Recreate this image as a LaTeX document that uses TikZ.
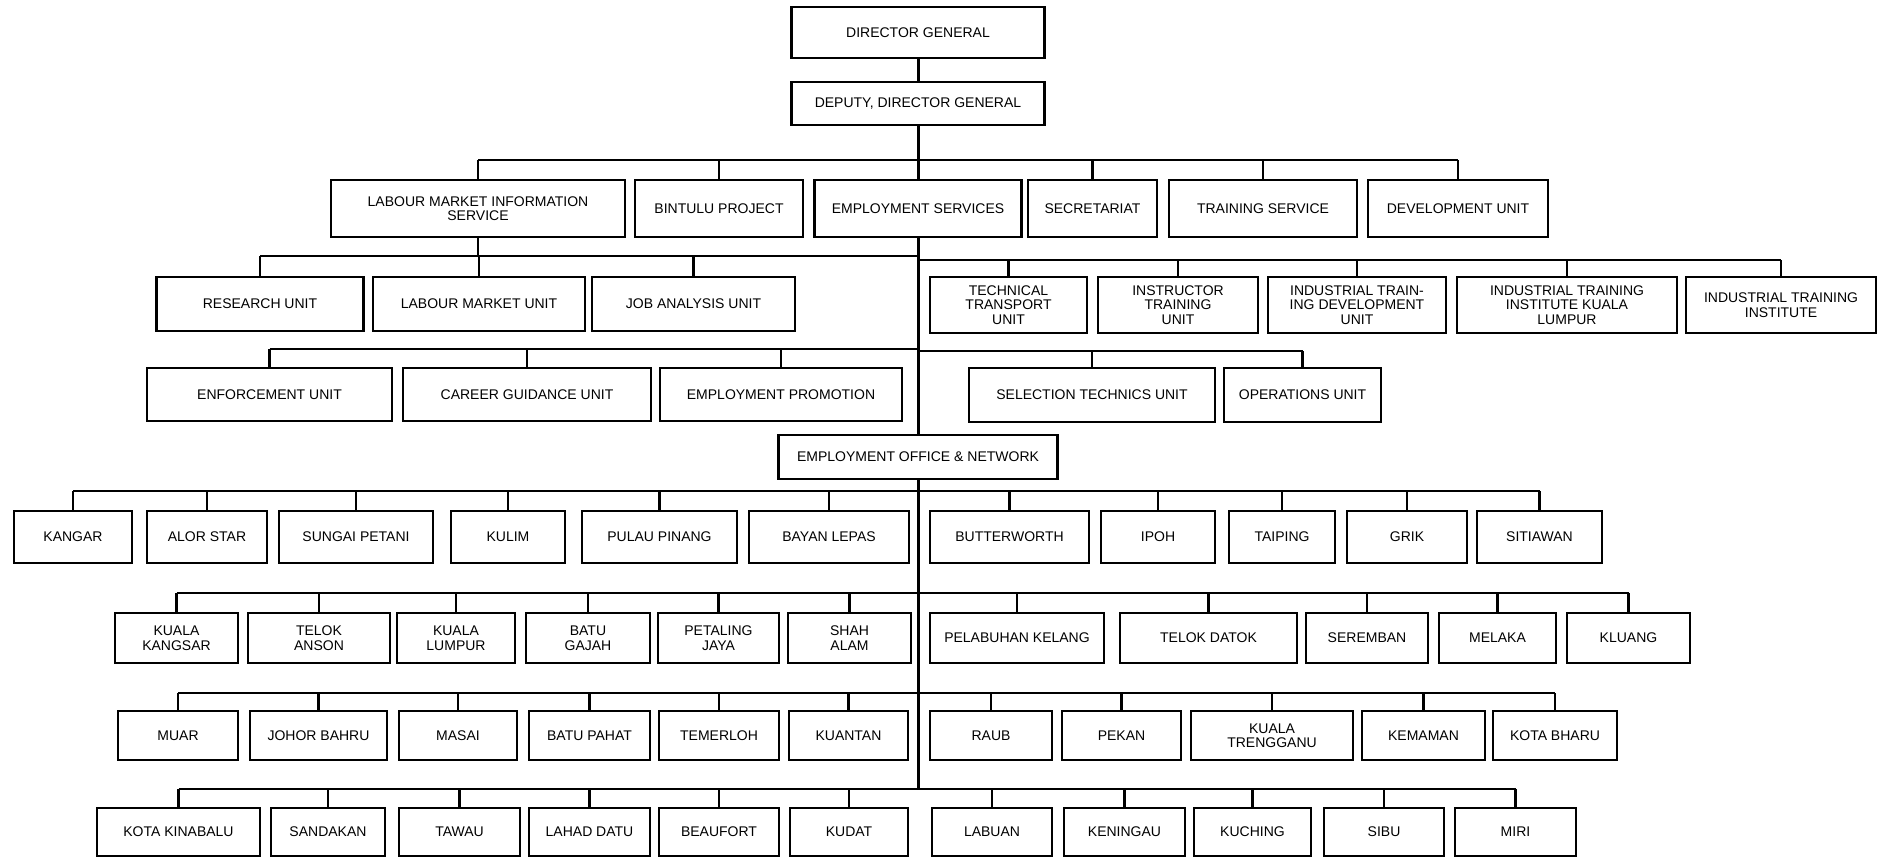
\documentclass[tikz,border=0pt]{standalone}
\usepackage{fontspec}
\setmainfont{Liberation Sans}
\begin{document}
\begin{tikzpicture}[x=1pt, y=-1pt,
  orgbox/.style={draw, line width=2.8pt, fill=white, align=center, inner sep=1pt,
    font=\fontsize{14}{14.5}\selectfont},
  link/.style={line width=2.2pt},
  trunk/.style={line width=3pt}]
\useasboundingbox (0,0) rectangle (1886,859);
% head
\node[orgbox, minimum width=253pt, minimum height=51pt] (dg) at (918,32.5) {DIRECTOR GENERAL};
\node[orgbox, minimum width=253pt, minimum height=43pt] (deputy) at (918,103.5) {DEPUTY, DIRECTOR GENERAL};
% services
\node[orgbox, minimum width=294pt, minimum height=57pt] (lmis) at (478,208.5) {LABOUR MARKET INFORMATION\\SERVICE};
\node[orgbox, minimum width=168pt, minimum height=57pt] (bintulu) at (719,208.5) {BINTULU PROJECT};
\node[orgbox, minimum width=207pt, minimum height=57pt] (es) at (918,208.5) {EMPLOYMENT SERVICES};
\node[orgbox, minimum width=129pt, minimum height=57pt] (secr) at (1092.5,208.5) {SECRETARIAT};
\node[orgbox, minimum width=188pt, minimum height=57pt] (trs) at (1263,208.5) {TRAINING SERVICE};
\node[orgbox, minimum width=180pt, minimum height=57pt] (dev) at (1458,208.5) {DEVELOPMENT UNIT};
% units
\node[orgbox, minimum width=207pt, minimum height=54pt] (research) at (260,304) {RESEARCH UNIT};
\node[orgbox, minimum width=212pt, minimum height=54pt] (lmu) at (479,304) {LABOUR MARKET UNIT};
\node[orgbox, minimum width=203pt, minimum height=54pt] (jau) at (693.5,304) {JOB ANALYSIS UNIT};
\node[orgbox, minimum width=157pt, minimum height=56pt] (ttu) at (1008.5,305) {TECHNICAL\\TRANSPORT\\UNIT};
\node[orgbox, minimum width=160pt, minimum height=56pt] (itu) at (1178,305) {INSTRUCTOR\\TRAINING\\UNIT};
\node[orgbox, minimum width=178pt, minimum height=56pt] (itdu) at (1357,305) {INDUSTRIAL TRAIN-\\ING DEVELOPMENT\\UNIT};
\node[orgbox, minimum width=220pt, minimum height=56pt] (itikl) at (1567,305) {INDUSTRIAL TRAINING\\INSTITUTE KUALA\\LUMPUR};
\node[orgbox, minimum width=190pt, minimum height=56pt] (iti) at (1781,305) {INDUSTRIAL TRAINING\\INSTITUTE};
\node[orgbox, minimum width=245pt, minimum height=53pt] (enf) at (269.5,394.5) {ENFORCEMENT UNIT};
\node[orgbox, minimum width=248pt, minimum height=53pt] (cgu) at (527,394.5) {CAREER GUIDANCE UNIT};
\node[orgbox, minimum width=242pt, minimum height=53pt] (ep) at (781,394.5) {EMPLOYMENT PROMOTION};
\node[orgbox, minimum width=246pt, minimum height=54pt] (stu) at (1092,395) {SELECTION TECHNICS UNIT};
\node[orgbox, minimum width=157pt, minimum height=54pt] (ops) at (1302.5,395) {OPERATIONS UNIT};
\node[orgbox, minimum width=279pt, minimum height=44pt] (eon) at (918,457) {EMPLOYMENT OFFICE \& NETWORK};
% offices, first row
\node[orgbox, minimum width=118pt, minimum height=52pt] (kangar) at (73,537) {KANGAR};
\node[orgbox, minimum width=120pt, minimum height=52pt] (alor) at (207,537) {ALOR STAR};
\node[orgbox, minimum width=154pt, minimum height=52pt] (sungai) at (356,537) {SUNGAI PETANI};
\node[orgbox, minimum width=114pt, minimum height=52pt] (kulim) at (508,537) {KULIM};
\node[orgbox, minimum width=155pt, minimum height=52pt] (pulau) at (659.5,537) {PULAU PINANG};
\node[orgbox, minimum width=160pt, minimum height=52pt] (bayan) at (829,537) {BAYAN LEPAS};
\node[orgbox, minimum width=159pt, minimum height=52pt] (butter) at (1009.5,537) {BUTTERWORTH};
\node[orgbox, minimum width=114pt, minimum height=52pt] (ipoh) at (1158,537) {IPOH};
\node[orgbox, minimum width=106pt, minimum height=52pt] (taiping) at (1282,537) {TAIPING};
\node[orgbox, minimum width=120pt, minimum height=52pt] (grik) at (1407,537) {GRIK};
\node[orgbox, minimum width=125pt, minimum height=52pt] (sitiawan) at (1539.5,537) {SITIAWAN};
% second row
\node[orgbox, minimum width=123pt, minimum height=50pt] (kkangsar) at (176.5,638) {KUALA\\KANGSAR};
\node[orgbox, minimum width=142pt, minimum height=50pt] (tanson) at (319,638) {TELOK\\ANSON};
\node[orgbox, minimum width=118pt, minimum height=50pt] (klumpur) at (456,638) {KUALA\\LUMPUR};
\node[orgbox, minimum width=124pt, minimum height=50pt] (bgajah) at (588,638) {BATU\\GAJAH};
\node[orgbox, minimum width=121pt, minimum height=50pt] (pjaya) at (718.5,638) {PETALING\\JAYA};
\node[orgbox, minimum width=123pt, minimum height=50pt] (salam) at (849.5,638) {SHAH\\ALAM};
\node[orgbox, minimum width=174pt, minimum height=50pt] (pkelang) at (1017,638) {PELABUHAN KELANG};
\node[orgbox, minimum width=177pt, minimum height=50pt] (tdatok) at (1208.5,638) {TELOK DATOK};
\node[orgbox, minimum width=122pt, minimum height=50pt] (seremban) at (1367,638) {SEREMBAN};
\node[orgbox, minimum width=117pt, minimum height=50pt] (melaka) at (1497.5,638) {MELAKA};
\node[orgbox, minimum width=123pt, minimum height=50pt] (kluang) at (1628.5,638) {KLUANG};
% third row
\node[orgbox, minimum width=120pt, minimum height=49pt] (muar) at (178,735.5) {MUAR};
\node[orgbox, minimum width=137pt, minimum height=49pt] (jbahru) at (318.5,735.5) {JOHOR BAHRU};
\node[orgbox, minimum width=118pt, minimum height=49pt] (masai) at (458,735.5) {MASAI};
\node[orgbox, minimum width=121pt, minimum height=49pt] (bpahat) at (589.5,735.5) {BATU PAHAT};
\node[orgbox, minimum width=120pt, minimum height=49pt] (temerloh) at (719,735.5) {TEMERLOH};
\node[orgbox, minimum width=119pt, minimum height=49pt] (kuantan) at (848.5,735.5) {KUANTAN};
\node[orgbox, minimum width=122pt, minimum height=49pt] (raub) at (991,735.5) {RAUB};
\node[orgbox, minimum width=119pt, minimum height=49pt] (pekan) at (1121.5,735.5) {PEKAN};
\node[orgbox, minimum width=162pt, minimum height=49pt] (ktrg) at (1272,735.5) {KUALA\\TRENGGANU};
\node[orgbox, minimum width=123pt, minimum height=49pt] (kemaman) at (1423.5,735.5) {KEMAMAN};
\node[orgbox, minimum width=124pt, minimum height=49pt] (kbharu) at (1555,735.5) {KOTA BHARU};
% fourth row
\node[orgbox, minimum width=163pt, minimum height=48pt] (kkinabalu) at (178.5,832) {KOTA KINABALU};
\node[orgbox, minimum width=114pt, minimum height=48pt] (sandakan) at (328,832) {SANDAKAN};
\node[orgbox, minimum width=121pt, minimum height=48pt] (tawau) at (459.5,832) {TAWAU};
\node[orgbox, minimum width=121pt, minimum height=48pt] (ldatu) at (589.5,832) {LAHAD DATU};
\node[orgbox, minimum width=120pt, minimum height=48pt] (beaufort) at (719,832) {BEAUFORT};
\node[orgbox, minimum width=118pt, minimum height=48pt] (kudat) at (849,832) {KUDAT};
\node[orgbox, minimum width=120pt, minimum height=48pt] (labuan) at (992,832) {LABUAN};
\node[orgbox, minimum width=121pt, minimum height=48pt] (keningau) at (1124.5,832) {KENINGAU};
\node[orgbox, minimum width=117pt, minimum height=48pt] (kuching) at (1252.5,832) {KUCHING};
\node[orgbox, minimum width=120pt, minimum height=48pt] (sibu) at (1384,832) {SIBU};
\node[orgbox, minimum width=121pt, minimum height=48pt] (miri) at (1515.5,832) {MIRI};
% bus levels on the trunk
\coordinate (busT) at (918,160);
\coordinate (busLa) at (918,256);
\coordinate (busRa) at (918,260);
\coordinate (busLb) at (918,349);
\coordinate (busRb) at (918,351);
\coordinate (busA) at (918,491);
\coordinate (busB) at (918,593);
\coordinate (busC) at (918,693);
\coordinate (busD) at (918,789);
% trunk
\draw[trunk] (dg.south) -- (deputy.north);
\draw[trunk] (deputy.south) -- (es.north);
\draw[trunk] (es.south) -- (eon.north);
\draw[trunk] (eon.south) -- (busD);
% services
\draw[link] (lmis |- busT) -- (dev |- busT);
\foreach \n in {lmis,bintulu,secr,trs,dev}
  \draw[link] (\n.north) -- (\n |- busT);
% units
\draw[link] (lmis.south) -- (lmis |- busLa);
\draw[link] (research |- busLa) -- (busLa);
\foreach \n in {research,lmu,jau}
  \draw[link] (\n.north) -- (\n |- busLa);
\draw[link] (busRa) -- (iti |- busRa);
\foreach \n in {ttu,itu,itdu,itikl,iti}
  \draw[link] (\n.north) -- (\n |- busRa);
\draw[link] (enf |- busLb) -- (busLb);
\foreach \n in {enf,cgu,ep}
  \draw[link] (\n.north) -- (\n |- busLb);
\draw[link] (busRb) -- (ops |- busRb);
\foreach \n in {stu,ops}
  \draw[link] (\n.north) -- (\n |- busRb);
% offices
\draw[link] (kangar |- busA) -- (sitiawan |- busA);
\foreach \n in {kangar,alor,sungai,kulim,pulau,bayan,butter,ipoh,taiping,grik,sitiawan}
  \draw[link] (\n.north) -- (\n |- busA);
\draw[link] (kkangsar |- busB) -- (kluang |- busB);
\foreach \n in {kkangsar,tanson,klumpur,bgajah,pjaya,salam,pkelang,tdatok,seremban,melaka,kluang}
  \draw[link] (\n.north) -- (\n |- busB);
\draw[link] (muar |- busC) -- (kbharu |- busC);
\foreach \n in {muar,jbahru,masai,bpahat,temerloh,kuantan,raub,pekan,ktrg,kemaman,kbharu}
  \draw[link] (\n.north) -- (\n |- busC);
\draw[link] (kkinabalu |- busD) -- (miri |- busD);
\foreach \n in {kkinabalu,sandakan,tawau,ldatu,beaufort,kudat,labuan,keningau,kuching,sibu,miri}
  \draw[link] (\n.north) -- (\n |- busD);
\end{tikzpicture}
\end{document}
